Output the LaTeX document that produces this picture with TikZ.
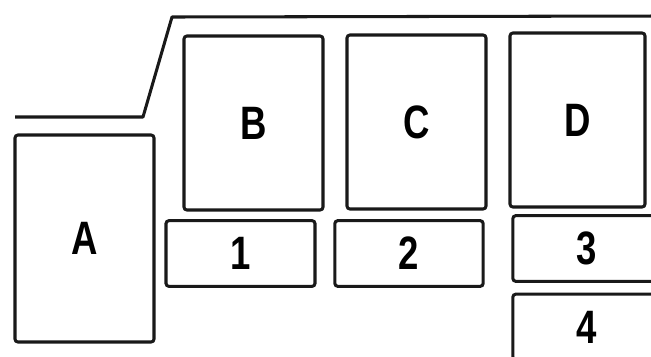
\documentclass[tikz,border=0pt]{standalone}
\usepackage{fontspec}
\setmainfont{Liberation Sans}
\newfontfamily\baylabel[FakeStretch=0.78]{Liberation Sans}
\usetikzlibrary{positioning}
\definecolor{inkgray}{RGB}{25,25,25}

\begin{document}
\begin{tikzpicture}[
        x=0.03cm, y=-0.03cm,
        bay/.style={draw=inkgray, line width=2.6pt, rounded corners=2.5pt, fill=white, inner sep=0pt, font=\baylabel\fontsize{40}{44}\selectfont\bfseries},
        big/.style={bay, minimum width=4.17cm, minimum height=5.22cm},
        small/.style={bay, minimum width=4.45cm, minimum height=1.97cm},
        edge/.style={draw=inkgray, line width=2.6pt, line join=round}
    ]
        \useasboundingbox (0,0) rectangle (651,356);
        \clip (0,0) rectangle (651,356);

        \draw[edge] (15,117) -- (143,117) -- (172,17) -- (660,16);

        \node[bay, minimum width=4.17cm, minimum height=6.21cm] (boxA) at (84.5,238.5) {A};
        \node[big] (boxB) at (253.5,123) {B};
        \node[big] (boxC) at (416.5,122) {C};
        \node[big, minimum width=4.05cm] (boxD) at (577.5,120) {D};

        \node[small, minimum width=4.47cm] (slot1) at (240.5,253.5) {1};
        \node[small] (slot2) at (409,253.5) {2};
        \node[small] (slot3) at (587,248.5) {3};
        \node[small] (slot4) at (587,327) {4};

    \end{tikzpicture}
\end{document}
